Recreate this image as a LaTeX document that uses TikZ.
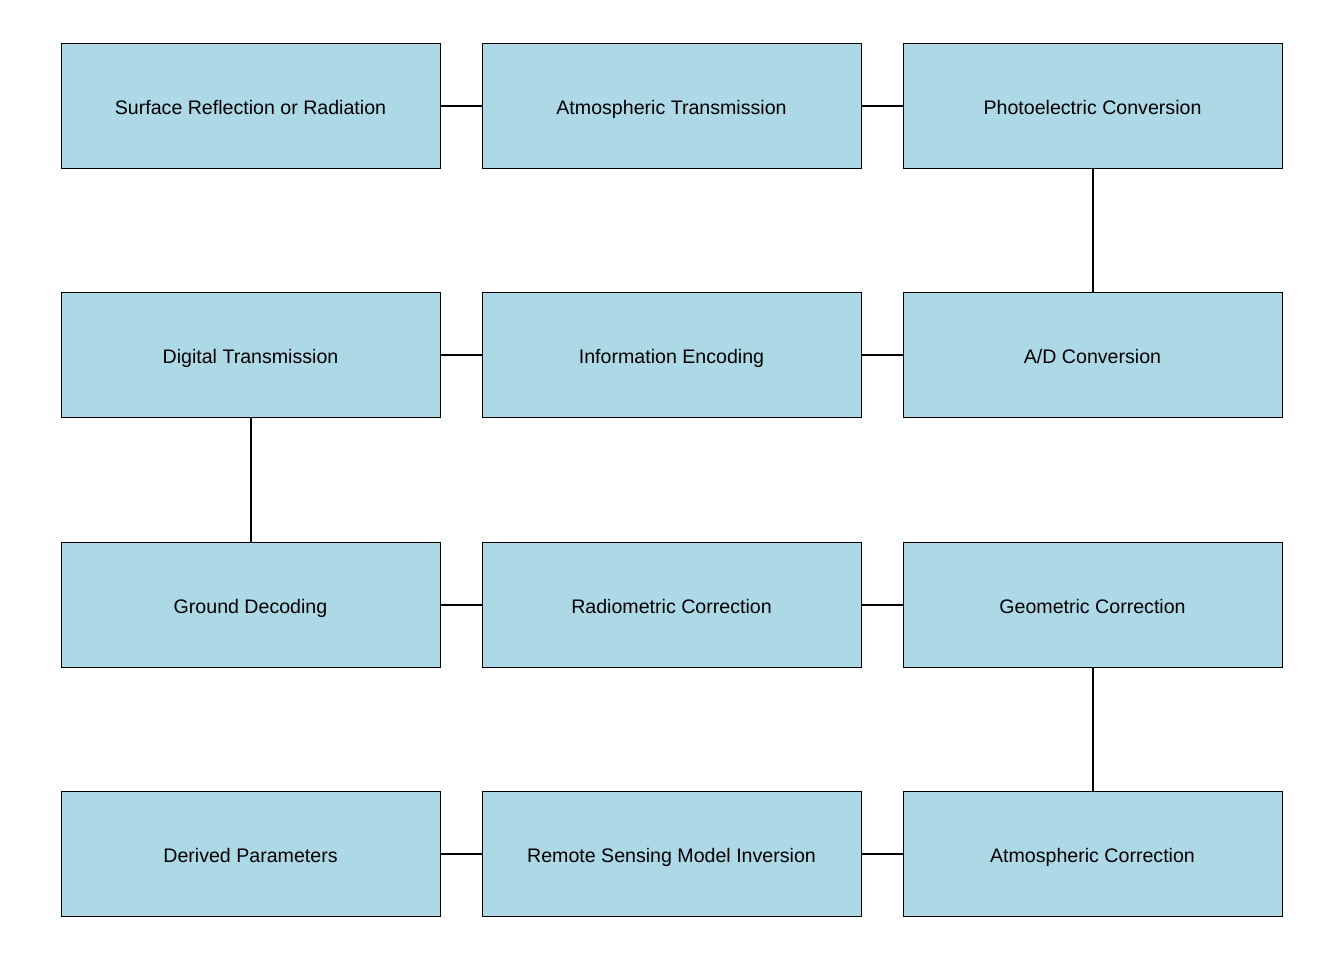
\documentclass[tikz,border=0pt]{standalone}
\usepackage{fontspec}
\setmainfont{Liberation Sans}
\definecolor{boxblue}{RGB}{173,216,230}
\begin{document}
\begin{tikzpicture}[x=0.75pt,y=-0.75pt,
  stepbox/.style={draw=black,line width=0.75pt,fill=boxblue,minimum width=284.25pt,minimum height=93.75pt,inner sep=0pt,text height=14pt,text depth=0.5pt,font=\fontsize{14.7pt}{17pt}\selectfont},
  link/.style={draw=black,line width=1.5pt}]
\useasboundingbox (0,0) rectangle (1344,960);
\node[stepbox] (a1) at (250.5,105.5) {Surface Reflection or Radiation};
\node[stepbox] (a2) at (671.5,105.5) {Atmospheric Transmission};
\node[stepbox] (a3) at (1092.5,105.5) {Photoelectric Conversion};
\node[stepbox] (b1) at (250.5,354.5) {Digital Transmission};
\node[stepbox] (b2) at (671.5,354.5) {Information Encoding};
\node[stepbox] (b3) at (1092.5,354.5) {A/D Conversion};
\node[stepbox] (c1) at (250.5,604.5) {Ground Decoding};
\node[stepbox] (c2) at (671.5,604.5) {Radiometric Correction};
\node[stepbox] (c3) at (1092.5,604.5) {Geometric Correction};
\node[stepbox] (d1) at (250.5,853.5) {Derived Parameters};
\node[stepbox] (d2) at (671.5,853.5) {Remote Sensing Model Inversion};
\node[stepbox] (d3) at (1092.5,853.5) {Atmospheric Correction};
\draw[link] (a1) -- (a2);
\draw[link] (a2) -- (a3);
\draw[link] (a3) -- (b3);
\draw[link] (b3) -- (b2);
\draw[link] (b2) -- (b1);
\draw[link] (b1) -- (c1);
\draw[link] (c1) -- (c2);
\draw[link] (c2) -- (c3);
\draw[link] (c3) -- (d3);
\draw[link] (d3) -- (d2);
\draw[link] (d2) -- (d1);
\end{tikzpicture}
\end{document}
